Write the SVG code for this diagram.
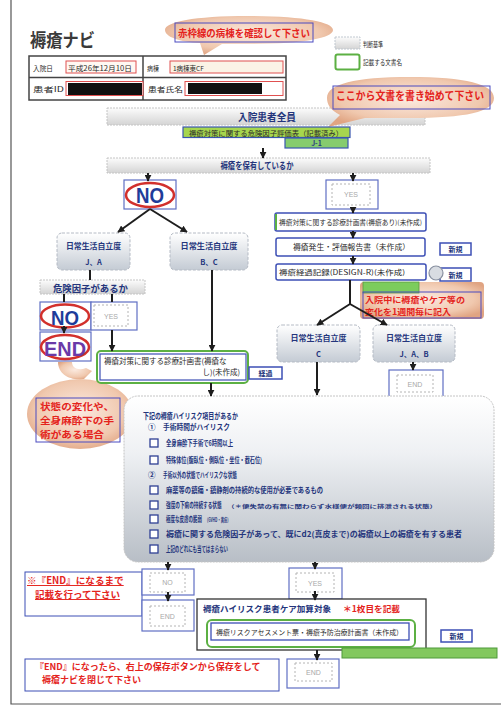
<svg xmlns="http://www.w3.org/2000/svg" width="501" height="706" viewBox="0 0 501 706">
<defs>
<style>
text{font-family:"Noto Sans CJK JP",sans-serif}
.lat{font-family:"Liberation Sans","Noto Sans CJK JP",sans-serif;font-weight:bold}
.nv{fill:#24357c;font-weight:bold}
.rd{fill:#e4231c;font-weight:bold}
.dk{fill:#2a2a2a}
.conn{stroke:#1e1e1e;stroke-width:2;fill:none}
.arr{marker-end:url(#ah)}
.bnr{fill:url(#gBan);stroke:#c4c4c4;stroke-width:1;stroke-dasharray:2 1}
.lvl{fill:url(#gLvl);stroke:#b4bac4;stroke-width:1;stroke-dasharray:3 1.5}
.bb{fill:#fff;stroke:#3d4fb5;stroke-width:1.5}
.yb{fill:#fff;stroke:#5f6fc4;stroke-width:1.2}
.dash{fill:none;stroke:#b4b4b4;stroke-width:1;stroke-dasharray:2 2}
.ell{fill:none;stroke:#d2302c;stroke-width:2.5}
.cb{fill:#fff;stroke:#2e3f94;stroke-width:1.3}
.cal{fill:url(#gCal)}
.ghost{fill:#a8a8a8;font-size:7px;font-family:"Liberation Sans",sans-serif}
.frm{fill:none;stroke:#4a4ac0;stroke-width:1}
.li{font-size:7.5px}
</style>
<linearGradient id="gBan" x1="0" y1="0" x2="0" y2="1"><stop offset="0" stop-color="#fcfcfc"/><stop offset="1" stop-color="#d4d4d4"/></linearGradient>
<linearGradient id="gLvl" x1="0" y1="0" x2="0" y2="1"><stop offset="0" stop-color="#ffffff"/><stop offset="1" stop-color="#c4cbd4"/></linearGradient>
<linearGradient id="gArea" x1="0" y1="0" x2="0" y2="1"><stop offset="0" stop-color="#ffffff"/><stop offset="0.35" stop-color="#eef0f3"/><stop offset="1" stop-color="#b8bec6"/></linearGradient>
<radialGradient id="gCal" cx="0.5" cy="0.45" r="0.6"><stop offset="0" stop-color="#fbeae0"/><stop offset="0.7" stop-color="#f0c8ae"/><stop offset="1" stop-color="#e0a482"/></radialGradient>
<marker id="ah" viewBox="0 0 10 10" refX="9" refY="5" markerWidth="7" markerHeight="7" markerUnits="userSpaceOnUse" orient="auto"><path d="M0,0 L10,5 L0,10 z" fill="#1e1e1e"/></marker>
</defs>
<rect x="0" y="0" width="501" height="706" fill="#fff"/>
<path d="M11,0 V704 H501" stroke="#555" stroke-width="1.2" fill="none"/>

<g id="title"><text x="30" y="47" font-size="18" font-weight="bold" fill="#3a3a3a" textLength="65" lengthAdjust="spacingAndGlyphs">褥瘡ナビ</text></g>

<g id="header">
<rect x="29" y="56" width="257" height="44" fill="#fff" stroke="#444" stroke-width="1.5"/>
<line x1="29" y1="77.5" x2="286" y2="77.5" stroke="#444" stroke-width="1.5"/>
<line x1="143" y1="56" x2="143" y2="100" stroke="#444" stroke-width="1.5"/>
<text x="33" y="71" font-size="7" class="dk" textLength="20" lengthAdjust="spacingAndGlyphs">入院日</text>
<rect x="66" y="61" width="70" height="12" fill="#fff8f2" stroke="#e05050" stroke-width="1"/>
<text x="68" y="70.5" font-size="7" class="dk" textLength="64" lengthAdjust="spacingAndGlyphs">平成26年12月10日</text>
<text x="147" y="71" font-size="7" class="dk" textLength="12" lengthAdjust="spacingAndGlyphs">病棟</text>
<rect x="170" y="61" width="113" height="12" fill="#fbf3e6" stroke="#e05050" stroke-width="1"/>
<text x="173" y="70.5" font-size="6.5" class="dk">1病棟東CF</text>
<text x="33" y="92" font-size="7" class="dk" textLength="31" lengthAdjust="spacingAndGlyphs">患者ID</text>
<rect x="66" y="81.5" width="77" height="14" fill="#fff" stroke="#e05050" stroke-width="1"/>
<rect x="68" y="83" width="74" height="12" fill="#111"/>
<text x="148" y="92" font-size="7" class="dk" textLength="35" lengthAdjust="spacingAndGlyphs">患者氏名</text>
<rect x="185" y="81.5" width="98" height="14" fill="#fff" stroke="#e05050" stroke-width="1"/>
<rect x="188" y="83" width="74" height="11" fill="#111"/>
</g>

<g id="callout-ward">
<path class="cal" d="M248,16 C302,16 333,22 333,30 C333,38 302,44 250,44 L222,44 L204,55 L200,43 C180,42 165,37 165,30 C165,22 194,16 248,16 Z"/>
<rect x="175" y="23" width="138" height="19" class="frm"/>
<text x="178" y="36.5" font-size="10" class="rd" textLength="132" lengthAdjust="spacingAndGlyphs">赤枠線の病棟を確認して下さい</text>
</g>

<g id="legend">
<rect x="335" y="37" width="25" height="12" fill="url(#gBan)" stroke="#c0c8d0" stroke-dasharray="2 1"/>
<text x="363" y="46.5" font-size="6.5" class="dk" textLength="20" lengthAdjust="spacingAndGlyphs">判断基準</text>
<rect x="335.5" y="54.5" width="24" height="15" rx="2" fill="#fff" stroke="#5cb043" stroke-width="2"/>
<text x="363" y="65" font-size="6.5" class="dk" textLength="39" lengthAdjust="spacingAndGlyphs">記載する文書名</text>
</g>

<g id="all-patients">
<rect x="107" y="108" width="318" height="17" class="bnr"/>
<text x="267" y="120.5" font-size="10" class="nv" text-anchor="middle" textLength="58" lengthAdjust="spacingAndGlyphs">入院患者全員</text>
</g>

<g id="callout-start">
<path class="cal" d="M410,77 C465,77 494,84 494,98 C494,112 465,118 410,118 L365,118 L328,127 L340,115 C330,110 327,104 327,98 C327,84 355,77 410,77 Z"/>
<rect x="333" y="86" width="157" height="23" class="frm"/>
<text x="336" y="100" font-size="11" class="rd" textLength="148" lengthAdjust="spacingAndGlyphs">ここから文書を書き始めて下さい</text>
</g>

<g id="risk-form">
<rect x="183" y="127" width="167" height="10.5" fill="#a6d64e" stroke="#3a56b0" stroke-width="1.2"/>
<text x="189" y="135.5" font-size="7" class="dk" textLength="154" lengthAdjust="spacingAndGlyphs">褥瘡対策に関する危険因子評価表（記載済み）</text>
<rect x="285" y="138" width="63" height="10" fill="#86cc6e" stroke="#3a56b0" stroke-width="1.2"/>
<text x="316.5" y="146" font-size="7" fill="#2a3a80" text-anchor="middle" font-weight="bold">J-1</text>
</g>

<g id="has-ulcer">
<rect x="107" y="158" width="323" height="15" class="bnr"/>
<text x="257" y="169" font-size="9" class="nv" text-anchor="middle" textLength="73" lengthAdjust="spacingAndGlyphs">褥瘡を保有しているか</text>
</g>

<g id="no1">
<rect x="124" y="180" width="52" height="29" class="yb"/>
<ellipse cx="150" cy="195" rx="24" ry="12" class="ell"/>
<text x="150" y="203" font-size="22" class="lat" fill="#1e3c9a" text-anchor="middle" textLength="28" lengthAdjust="spacingAndGlyphs">NO</text>
</g>

<g id="lv-ja">
<rect x="57" y="233" width="73" height="37" rx="5" class="lvl"/>
<text x="93.5" y="249" font-size="7.5" class="nv" text-anchor="middle" textLength="55" lengthAdjust="spacingAndGlyphs">日常生活自立度</text>
<text x="93.5" y="265" font-size="7.5" class="nv" text-anchor="middle">J、A</text>
</g>
<g id="lv-bc">
<rect x="170" y="233" width="78" height="37" rx="5" class="lvl"/>
<text x="209" y="249" font-size="7.5" class="nv" text-anchor="middle" textLength="57" lengthAdjust="spacingAndGlyphs">日常生活自立度</text>
<text x="209" y="265" font-size="7.5" class="nv" text-anchor="middle">B、C</text>
</g>

<g id="risk-q">
<rect x="40" y="280" width="105" height="14" class="bnr"/>
<text x="53" y="291.5" font-size="9.5" class="nv" textLength="75" lengthAdjust="spacingAndGlyphs">危険因子があるか</text>
</g>

<g id="no2">
<rect x="40" y="302" width="51" height="28" class="yb"/>
<ellipse cx="65" cy="316" rx="24" ry="11.5" class="ell"/>
<text x="65" y="324.5" font-size="21" class="lat" fill="#1e3c9a" text-anchor="middle" textLength="28" lengthAdjust="spacingAndGlyphs">NO</text>
</g>
<g id="yes2">
<rect x="91" y="302" width="46" height="28" class="yb"/>
<rect x="94" y="305" width="34" height="21" class="dash"/>
<text x="111" y="318.5" class="ghost" text-anchor="middle">YES</text>
</g>
<g id="end1">
<rect x="40" y="332" width="51" height="29" class="yb"/>
<ellipse cx="65" cy="347" rx="24" ry="12" class="ell"/>
<text x="65" y="355.5" font-size="20" class="lat" fill="#6a3aa8" text-anchor="middle" textLength="42" lengthAdjust="spacingAndGlyphs">END</text>
</g>

<g id="callout-change">
<path class="cal" d="M58,362 L72,362 C72,368 78,371 86,368 L92,371 L84,379 C70,381 58,374 58,362 Z"/>
<ellipse cx="80" cy="414" rx="53" ry="35" class="cal"/>
<rect x="36" y="398" width="84" height="44" class="frm"/>
<text x="40" y="410" font-size="9.5" class="rd" textLength="74" lengthAdjust="spacingAndGlyphs">状態の変化や、</text>
<text x="40" y="424" font-size="9.5" class="rd" textLength="74" lengthAdjust="spacingAndGlyphs">全身麻酔下の手</text>
<text x="40" y="438" font-size="9.5" class="rd" textLength="64" lengthAdjust="spacingAndGlyphs">術がある場合</text>
</g>

<g id="plan-none">
<rect x="97" y="351" width="151" height="32" rx="4" fill="#fff" stroke="#5cb043" stroke-width="2"/>
<rect x="100" y="354" width="146" height="26" fill="none" stroke="#3d4fb5" stroke-width="1.2"/>
<text font-size="7.5" class="dk"><tspan x="104" y="364">褥瘡対策に関する診療計画書(褥瘡な</tspan><tspan x="240" y="375" text-anchor="end">し)(未作成)</tspan></text>
</g>
<g id="keika">
<rect x="249" y="367" width="33" height="12" class="bb"/>
<text x="265.5" y="376" font-size="7" class="nv" text-anchor="middle">経過</text>
</g>

<g id="yes1">
<rect x="326" y="180" width="52" height="29" class="yb"/>
<rect x="332" y="184" width="38" height="21" class="dash"/>
<text x="351" y="197" class="ghost" text-anchor="middle">YES</text>
</g>
<g id="plan-with">
<rect x="275" y="213" width="151" height="18" rx="2" class="bb"/>
<line x1="276" y1="214" x2="276" y2="230" stroke="#5cb043" stroke-width="2"/>
<text x="279" y="225" font-size="6.5" class="dk" textLength="143" lengthAdjust="spacingAndGlyphs">褥瘡対策に関する診療計画書(褥瘡あり)(未作成)</text>
</g>
<g id="report">
<rect x="276" y="238" width="149" height="18" rx="2" class="bb"/>
<text x="293" y="250" font-size="7.5" class="dk" textLength="117" lengthAdjust="spacingAndGlyphs">褥瘡発生・評価報告書（未作成）</text>
</g>
<g id="new1">
<rect x="440" y="243" width="31" height="12" class="bb"/>
<text x="455.5" y="252" font-size="7" class="nv" text-anchor="middle">新規</text>
</g>
<g id="design">
<rect x="276" y="264" width="150" height="16" rx="2" class="bb"/>
<text x="279" y="275" font-size="7" class="dk" textLength="126" lengthAdjust="spacingAndGlyphs">褥瘡経過記録(DESIGN-R)(未作成)</text>
</g>
<g id="new2">
<rect x="440" y="268" width="31" height="13" class="bb"/>
<text x="455.5" y="277.5" font-size="7" class="nv" text-anchor="middle">新規</text>
</g>

<g id="callout-weekly">
<rect x="360" y="282" width="124" height="37" rx="4" class="cal"/>
<rect x="363" y="282" width="56" height="11" fill="#7ccc5c" stroke="#5a9a40" stroke-width="0.8"/>
<circle cx="436" cy="273" r="7" fill="#d8dce2" stroke="#8890a0" stroke-width="1.2"/>
<rect x="363" y="292" width="118" height="26" class="frm"/>
<text x="365" y="302.5" font-size="8.3" class="rd" textLength="100" lengthAdjust="spacingAndGlyphs">入院中に褥瘡やケア等の</text>
<text x="365" y="315" font-size="8.3" class="rd" textLength="86" lengthAdjust="spacingAndGlyphs">変化を1週間毎に記入</text>
</g>

<g id="lv-c">
<rect x="277" y="325" width="83" height="37" rx="5" class="lvl"/>
<text x="318.5" y="341" font-size="7.5" class="nv" text-anchor="middle" textLength="56" lengthAdjust="spacingAndGlyphs">日常生活自立度</text>
<text x="318.5" y="357" font-size="7.5" class="nv" text-anchor="middle">C</text>
</g>
<g id="lv-jab">
<rect x="373" y="325" width="82" height="37" rx="5" class="lvl"/>
<text x="414" y="341" font-size="7.5" class="nv" text-anchor="middle" textLength="56" lengthAdjust="spacingAndGlyphs">日常生活自立度</text>
<text x="414" y="357" font-size="7.5" class="nv" text-anchor="middle">J、A、B</text>
</g>
<g id="end2">
<rect x="389" y="370" width="54" height="28" class="yb"/>
<rect x="397" y="375" width="36" height="17" class="dash"/>
<text x="415" y="387" class="ghost" text-anchor="middle">END</text>
</g>

<g id="highrisk">
<rect x="124" y="396" width="370" height="166" rx="14" fill="url(#gArea)" stroke="#c4c4c4" stroke-dasharray="2 1"/>
<text x="143" y="419" font-size="8" class="nv" textLength="95" lengthAdjust="spacingAndGlyphs">下記の褥瘡ハイリスク項目があるか</text>
<text x="148" y="430" class="li nv">①</text>
<text x="163" y="430" class="li nv" textLength="67" lengthAdjust="spacingAndGlyphs">手術時間がハイリスク</text>
<rect x="150" y="439" width="8" height="8" class="cb"/>
<text x="166" y="446" class="li nv" textLength="67" lengthAdjust="spacingAndGlyphs">全身麻酔下手術で6時間以上</text>
<rect x="150" y="456" width="8" height="8" class="cb"/>
<text x="166" y="463" class="li nv" textLength="96" lengthAdjust="spacingAndGlyphs">特殊体位(腹臥位・側臥位・坐位・截石位)</text>
<text x="148" y="478" class="li nv">②</text>
<text x="163" y="478" class="li nv" textLength="74" lengthAdjust="spacingAndGlyphs">手術以外の状態でハイリスクな状態</text>
<rect x="150" y="486" width="8" height="8" class="cb"/>
<text x="166" y="493" class="li nv" textLength="157" lengthAdjust="spacingAndGlyphs">麻薬等の鎮痛・鎮静剤の持続的な使用が必要であるもの</text>
<rect x="150" y="501" width="8" height="8" class="cb"/>
<text transform="translate(166,508) scale(0.62,1)" class="li nv">強度の下痢の持続する状態</text>
<text x="227" y="507.5" font-size="5" class="nv" textLength="210" lengthAdjust="spacingAndGlyphs">（＊便失禁の有無に関わらず水様便が頻回に排泄される状態）</text>
<rect x="150" y="515" width="8" height="8" class="cb"/>
<text transform="translate(166,522) scale(0.6,1)" class="li nv">極度な皮膚の脆弱</text>
<text transform="translate(207,521.5) scale(0.6,1)" font-size="5.5" class="nv">(GVHD・黄疸)</text>
<rect x="150" y="530" width="8" height="8" class="cb"/>
<text x="166" y="537" class="li nv" textLength="296" lengthAdjust="spacingAndGlyphs">褥瘡に関する危険因子があって、既にd2(真皮まで)の褥瘡以上の褥瘡を有する患者</text>
<rect x="150" y="545" width="8" height="8" class="cb"/>
<text x="166" y="552" class="li nv" textLength="62" lengthAdjust="spacingAndGlyphs">上記のどれにも当てはまらない</text>
</g>

<g id="note-end">
<rect x="25" y="572" width="117" height="44" fill="#fff" stroke="#3d4fb5" stroke-width="1"/>
<text font-size="9.6" class="rd" text-decoration="underline"><tspan x="27" y="584">※『END』になるまで</tspan><tspan x="35" y="598" font-size="9.5">記載を行って下さい</tspan></text>
</g>
<g id="no3">
<rect x="142" y="569" width="52" height="26" class="yb"/>
<rect x="150" y="573" width="35" height="19" class="dash"/>
<text x="167.5" y="585" class="ghost" text-anchor="middle">NO</text>
</g>
<g id="end3">
<rect x="142" y="600" width="52" height="31" class="yb"/>
<rect x="150" y="606" width="35" height="20" class="dash"/>
<text x="167.5" y="619" class="ghost" text-anchor="middle">END</text>
</g>
<g id="yes3">
<rect x="289" y="568" width="53" height="31" class="yb"/>
<rect x="296" y="573" width="38" height="19" class="dash"/>
<text x="315" y="586" class="ghost" text-anchor="middle">YES</text>
</g>
<g id="care-target">
<rect x="197" y="599" width="229" height="51" fill="#fff" stroke="#333" stroke-width="1.3"/>
<text x="203" y="612" font-size="8.5" class="nv" textLength="128" lengthAdjust="spacingAndGlyphs">褥瘡ハイリスク患者ケア加算対象</text>
<text x="343" y="612" font-size="8.5" class="rd" textLength="57" lengthAdjust="spacingAndGlyphs">＊1枚目を記載</text>
<rect x="207" y="620" width="208" height="27" rx="5" fill="#fff" stroke="#5cb043" stroke-width="2"/>
<rect x="211" y="623" width="198" height="17" fill="none" stroke="#3d4fb5" stroke-width="1.3"/>
<text x="216" y="634.5" font-size="7" class="dk" textLength="187" lengthAdjust="spacingAndGlyphs">褥瘡リスクアセスメント票・褥瘡予防治療計画書（未作成）</text>
</g>
<g id="new3">
<rect x="441" y="630" width="31" height="12" class="bb"/>
<text x="456.5" y="639" font-size="7" class="nv" text-anchor="middle">新規</text>
</g>
<rect x="342" y="648" width="155" height="10" fill="#82c85e" stroke="#4f9a3a" stroke-width="1"/>
<g id="end4">
<rect x="287" y="659" width="52" height="29" class="yb"/>
<rect x="295" y="663" width="37" height="18" class="dash"/>
<text x="313.5" y="675" class="ghost" text-anchor="middle">END</text>
</g>
<g id="note-save">
<rect x="25" y="659" width="254" height="32" fill="#fff" stroke="#3d4fb5" stroke-width="1"/>
<text font-size="9" class="rd"><tspan x="35" y="670">『END』になったら、右上の保存ボタンから保存をして</tspan><tspan x="42" y="683">褥瘡ナビを閉じて下さい</tspan></text>
</g>

<g id="connectors">
<path class="conn arr" d="M263,148 V158"/>
<path class="conn arr" d="M148,173 V181"/>
<path class="conn arr" d="M353,173 V181"/>
<path class="conn arr" d="M150,209 L118,232"/>
<path class="conn arr" d="M150,209 L187,232"/>
<path class="conn" d="M90,270 V280"/>
<path class="conn arr" d="M212,270 V351"/>
<path class="conn" d="M64,294 V302"/>
<path class="conn" d="M112,294 V302"/>
<path class="conn arr" d="M64,326 V333"/>
<path class="conn arr" d="M112,330 V351"/>
<path class="conn arr" d="M211,383 V396"/>
<path class="conn arr" d="M353,209 V213"/>
<path class="conn arr" d="M353,231 V238"/>
<path class="conn arr" d="M353,256 V264"/>
<path class="conn" d="M350,280 V304"/>
<path class="conn arr" d="M350,304 L317,325"/>
<path class="conn arr" d="M350,304 L387,325"/>
<path class="conn arr" d="M317,362 V395"/>
<path class="conn arr" d="M413,362 V370"/>
<path class="conn arr" d="M168,562 V570"/>
<path class="conn arr" d="M168,592 V601"/>
<path class="conn arr" d="M315,562 V569"/>
<path class="conn arr" d="M315,591 V600"/>
<path class="conn arr" d="M317,650 V660"/>
</g>
</svg>
